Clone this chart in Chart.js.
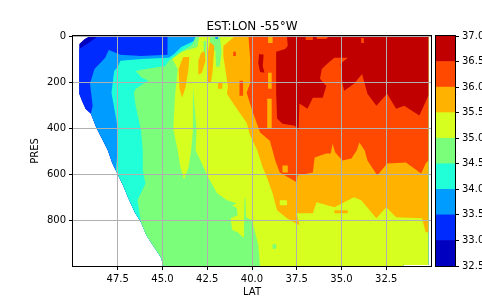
<!DOCTYPE html>
<html>
<head>
<meta charset="utf-8">
<title>EST:LON -55°W</title>
<script src="https://cdn.jsdelivr.net/npm/chart.js@4"></script>
<style>
    html, body { margin: 0; padding: 0; background: #fff; }
    #section { position: absolute; left: 0; top: 0; }
    #colorbar { position: absolute; left: 432px; top: 0; }
</style>
</head>
<body>
<canvas id="section" width="432" height="303"></canvas>
<canvas id="colorbar" width="50" height="303"></canvas>
<script>
// Axis ticks
const latTicks = [47.5, 45, 42.5, 40, 37.5, 35, 32.5];
const presTicks = [0, 200, 400, 600, 800];
const bandEdges = [32.5, 33, 33.5, 34, 34.5, 35, 35.5, 36, 36.5, 37];
const bandColors = ['#0000c0', '#002bff', '#009cff', '#20ffd7', '#7bff7b', '#d6ff20', '#ffb200', '#ff4900', '#c00000'];

const shelfEdge = [[49.65, 251], [49.5, 281], [49.3, 316], [49.0, 338], [48.7, 398], [48.3, 459], [48.05, 498], [47.8, 554],
    [47.55, 593], [47.2, 650], [46.9, 706], [46.55, 766], [46.2, 810], [45.9, 866], [45.5, 914], [45.1, 961], [44.95, 996],
    [44.95, 1000], [31.55, 1000], [31.55, 996], [30.15, 996], [30.15, 0]];
const above325 = [[49.05, 0], [49.35, 13], [49.65, 35], ...shelfEdge];
const above33 = [[48.6, 0], [49.05, 26], [49.65, 56], ...shelfEdge];
const above335 = [[44.72, 0], [44.72, 82], [46.2, 87], [47.35, 82], [48, 61], [48.2, 95], [48.8, 143], [49.05, 208], [48.9, 303],
    ...shelfEdge.slice(3)];
const above34 = [[43.15, 0], [43.25, 22], [43.95, 48], [44.35, 78], [44.65, 95], [46.2, 100], [47.35, 108], [47.5, 134], [47.7, 152],
    [47.85, 247], [47.55, 377], [47.5, 498], [47.55, 533], [47.6, 585], ...shelfEdge.slice(8)];
const above345 = [[43.1, 0], [43.33, 35], [43.45, 43], [44.1, 74], [44.65, 108], [44.85, 130], [45.95, 143], [46.5, 152], [46.2, 178],
    [45.8, 195], [46.5, 229], [46.6, 247], [46.5, 303], [46.2, 411], [46.1, 498], [46.1, 585], [45.95, 641], [46.4, 714], [46.2, 810],
    ...shelfEdge.slice(13)];
const above35 = [[42.95, 0], [43.05, 48], [43.9, 69], [44.45, 100], [44.15, 143], [44.3, 260], [44.4, 403], [44.15, 498], [44, 572],
    [43.8, 624], [43.55, 572], [43.4, 498], [43.3, 411], [43.3, 217], [43.1, 411], [43.15, 498], [42.8, 554], [42.5, 606], [41.95, 684],
    [41.4, 714], [40.85, 727], [41.1, 736], [40.85, 749], [40.8, 779], [41.2, 792], [41.1, 844], [40.8, 853], [40.5, 875], [40.45, 836],
    [40.42, 706], [40.37, 706], [40.33, 788], [40, 801], [39.65, 909], [39.55, 1000], ...shelfEdge.slice(18)];
const above355 = [[40.95, 0], [41.6, 43], [41.6, 87], [41.35, 217], [41.4, 251], [41.05, 294], [40.3, 377], [40.1, 433], [39.7, 498],
    [39.4, 572], [39.15, 619], [38.85, 684], [38.6, 758], [38.05, 792], [37.35, 823], [37.5, 771], [36.6, 771], [36.4, 723], [35.4, 745],
    [34.3, 701], [33.9, 714], [33.05, 792], [32.5, 745], [31.95, 788], [30.5, 792], [30.3, 853], [30.15, 853], [30.15, 0]];
const above36 = [[40.2, 0], [40.1, 100], [40.1, 204], [40.3, 247], [39.95, 333], [39.55, 420], [39, 455], [38.85, 498], [38.7, 541],
    [38.45, 593], [37.5, 636], [37.45, 606], [36.6, 593], [36.5, 528], [35.85, 511], [35.6, 511], [35.5, 468], [35.35, 507], [34.95, 541],
    [34.45, 533], [34.15, 498], [34, 463], [33.7, 498], [33.55, 541], [33, 606], [32.45, 554], [31.4, 550], [30.55, 598], [30.3, 554],
    [30.15, 541], [30.15, 0]];
const above365 = [[38.05, 0], [38, 43], [38.15, 56], [38.65, 69], [38.65, 247], [38.6, 359], [38.3, 381], [37.6, 390], [37.4, 411],
    [37.35, 294], [36.9, 316], [36.6, 268], [36.05, 268], [35.85, 217], [36.2, 186], [36.1, 143], [35.75, 117], [35.4, 95], [34.65, 95],
    [35.05, 121], [35, 160], [34.95, 204], [34.85, 238], [34.3, 208], [33.85, 165], [33.55, 251], [33.05, 303], [32.45, 251], [31.95, 316],
    [31.5, 303], [30.65, 346], [30.4, 303], [30.15, 260], [30.15, 0], [35.7, 0], [35.85, 13], [36.35, 13], [36.45, 0], [36.6, 0],
    [36.6, 17], [37, 17], [37, 0]];

// Small patches that sit inside a wider band
const freshTop = [[42.35, 0], [41.8, 0], [41.7, 65], [41.8, 134], [42, 134], [42.05, 65], [42.35, 52]];
const freshStreak = [[42.7, 22], [42.55, 22], [42.6, 91], [42.7, 91]];
const freshCap = [[42.05, 0], [41.9, 0], [41.9, 13], [42.05, 13]];
const freshDot = [[38.85, 905], [38.65, 905], [38.65, 925], [38.85, 925]];
const warmTongueA = [[43.85, 91], [43.5, 91], [43.55, 143], [43.7, 217], [43.9, 268], [44.05, 229], [44.1, 143]];
const warmTongueB = [[42.65, 65], [42.6, 108], [42.8, 160], [43, 169], [43, 108], [42.85, 74]];
const warmTongueC = [[42.35, 26], [42.1, 43], [42.15, 100], [42.2, 152], [42.3, 204], [42.5, 204], [42.5, 130], [42.45, 65]];
const warmBlockD = [[41.9, 204], [41.65, 204], [41.65, 229], [41.9, 229]];
const warmBlobE = [[35.4, 758], [34.65, 758], [34.65, 771], [35.4, 771]];
const yellowHole = [[38.45, 714], [38.05, 714], [38.05, 736], [38.45, 736]];
const hotSpotA = [[41.05, 69], [40.9, 69], [40.9, 87], [41.05, 87]];
const hotSpotB = [[40.7, 195], [40.5, 195], [40.5, 260], [40.7, 260]];
const coolColA = [[39.1, 0], [38.85, 0], [38.85, 30], [39.1, 30]];
const coolColB = [[39.1, 160], [38.9, 160], [38.9, 229], [39.1, 229]];
const coolColC = [[39.15, 273], [38.9, 273], [38.9, 403], [39.15, 403]];
const coolHole = [[38.3, 563], [38, 563], [38, 593], [38.3, 593]];
const redBlob = [[39.6, 78], [39.35, 82], [39.4, 130], [39.3, 160], [39.55, 156], [39.65, 117]];
const notchTop = [[33.9, 9], [33.75, 9], [33.75, 30], [33.9, 30]];

// Painted from the bottom up: [outline, band index]
const layers = [
    [above325, 0], [above33, 1], [above335, 2], [above34, 3], [above345, 4], [above35, 5],
    [freshTop, 4], [freshStreak, 4], [freshCap, 2], [freshDot, 4],
    [warmTongueA, 6], [warmTongueB, 6], [warmTongueC, 6], [warmBlockD, 6], [warmBlobE, 6],
    [above355, 6], [yellowHole, 5],
    [above36, 7], [hotSpotA, 7], [hotSpotB, 7], [coolColA, 6], [coolColB, 6], [coolColC, 6], [coolHole, 6],
    [above365, 8], [redBlob, 8], [notchTop, 7]
];

Chart.defaults.font.family = "'DejaVu Sans', sans-serif";
Chart.defaults.font.size = 10;
Chart.defaults.color = '#000';

// Matplotlib style box round the axes
const boxPlugin = {
    id: 'box',
    afterDraw(chart) {
        const { ctx, chartArea: a } = chart;
        ctx.save();
        ctx.strokeStyle = '#000';
        ctx.lineWidth = 1;
        ctx.strokeRect(Math.round(a.left) - 0.5, Math.round(a.top) - 0.5, Math.round(a.width) + 1, Math.round(a.height) + 1);
        ctx.restore();
    }
};

new Chart(document.getElementById('section'), {
    type: 'scatter',
    data: {
        // Chart.js paints the first dataset last
        datasets: layers.slice().reverse().map(([outline, band]) => ({
            data: outline.map(([x, y]) => ({ x, y })),
            showLine: true,
            fill: 'shape',
            tension: 0,
            pointRadius: 0,
            borderWidth: 0,
            backgroundColor: bandColors[band]
        }))
    },
    plugins: [boxPlugin],
    options: {
        responsive: false,
        animation: false,
        layout: { padding: { left: 0, right: 1, top: 0, bottom: 0 } },
        plugins: {
            legend: { display: false },
            tooltip: { enabled: false },
            title: {
                display: true,
                text: 'EST:LON -55°W',
                fullSize: false,
                color: '#000',
                font: { size: 12, weight: 'normal' },
                padding: { top: 20, bottom: 1.6 }
            }
        },
        scales: {
            x: {
                type: 'linear',
                reverse: true,
                min: 30,
                max: 50,
                afterBuildTicks: scale => { scale.ticks = latTicks.map(value => ({ value })); },
                afterFit: scale => { scale.height = 37; },
                ticks: { callback: value => value.toFixed(1), maxRotation: 0, padding: 3 },
                grid: { z: 1, color: '#b0b0b0', lineWidth: 1, tickColor: '#000', tickLength: 4 },
                border: { display: false },
                title: { display: true, text: 'LAT', color: '#000', font: { size: 10 }, padding: { top: 3, bottom: 5 } }
            },
            y: {
                type: 'linear',
                reverse: true,
                min: 0,
                max: 1000,
                afterBuildTicks: scale => { scale.ticks = presTicks.map(value => ({ value })); },
                afterFit: scale => { scale.width = 73; },
                ticks: { callback: value => String(value), padding: 3 },
                grid: { z: 1, color: '#b0b0b0', lineWidth: 1, tickColor: '#000', tickLength: 4 },
                border: { display: false },
                title: { display: true, text: 'PRES', color: '#000', font: { size: 10 }, padding: { top: 29, bottom: 0 } }
            }
        }
    }
});

// Colour bar
new Chart(document.getElementById('colorbar'), {
    type: 'bar',
    data: {
        labels: ['salinity'],
        datasets: bandColors.map((color, i) => ({
            data: [[bandEdges[i], bandEdges[i + 1]]],
            backgroundColor: color,
            borderWidth: 0,
            grouped: false,
            categoryPercentage: 1,
            barPercentage: 1
        }))
    },
    plugins: [boxPlugin],
    options: {
        responsive: false,
        animation: false,
        layout: { padding: { left: 4, right: 0, top: 36, bottom: 37 } },
        plugins: { legend: { display: false }, tooltip: { enabled: false } },
        scales: {
            x: { display: false },
            y: {
                position: 'right',
                min: 32.5,
                max: 37,
                afterBuildTicks: scale => { scale.ticks = bandEdges.map(value => ({ value })); },
                afterFit: scale => { scale.width = 27; },
                ticks: { callback: value => value.toFixed(1), padding: 3 },
                grid: { drawOnChartArea: false, tickColor: '#000', tickLength: 4 },
                border: { display: false }
            }
        }
    }
});
</script>
</body>
</html>
